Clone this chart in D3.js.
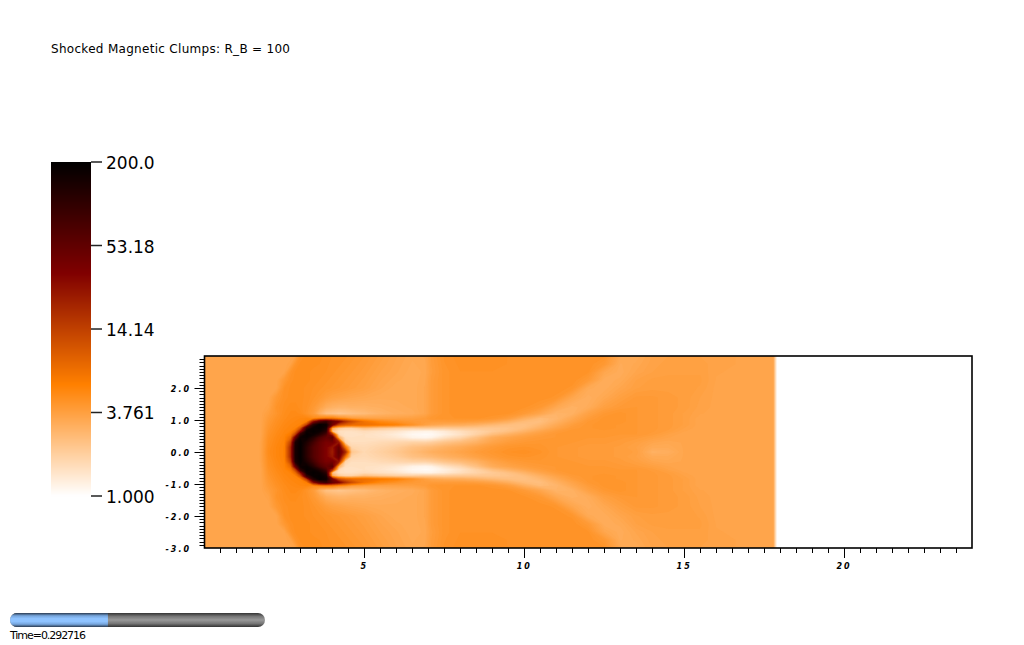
<!DOCTYPE html>
<html><head><meta charset="utf-8">
<script src="https://cdn.jsdelivr.net/npm/d3@7/dist/d3.min.js"></script>
<style>html,body{margin:0;padding:0;background:#fff;overflow:hidden}svg{display:block}text{fill:#000}</style>
</head><body><svg id="c" width="1024" height="645"></svg>
<script>
const titleText = "Shocked Magnetic Clumps: R_B = 100";
const timeText = "Time=0.292716";
const timeFraction = 0.384;
const legendTicks = [200, 53.18, 14.14, 3.761, 1];
const legendLabels = ["200.0", "53.18", "14.14", "3.761", "1.000"];
const colorStops = [1, 5.85, 34.2, 200];
const colorValues = ["#ffffff", "#ff8000", "#800000", "#000000"];
const xLabelTicks = [5, 10, 15, 20];
const yLabelTicks = [-3, -2, -1, 0, 1, 2];

// Sample positions of the density field (upper half; the field is mirrored about y = 0)
const xNodes = [0,1.5,1.75,2,2.25,2.5,2.7,2.85,3,3.2,3.4,3.6,3.8,4,4.2,4.4,4.6,5,5.5,6,6.5,6.9,7.1,7.5,8,8.5,9,9.5,10,10.5,11,11.5,12,12.5,13,13.5,14,14.5,15,15.5,16,17,17.78,17.9,18,24];
const yNodes = [0,.15,.3,.45,.55,.65,.75,.85,.95,1.05,1.2,1.4,1.7,2,2.25,2.5,2.75,3];
const density = [
[3.5,3.5,3.6,5,5.4,5.8,20,150,190,110,65,48,35,22,55,20,2.2,1.75,1.95,2.2,2.6,2.9,3.1,3.3,3.6,4,4.3,4.6,4.7,4.5,4.2,4.1,4,4,3.9,3.8,3,3.1,3.5,3.5,3.55,3.55,3.5,1,1,1],
[3.5,3.5,3.6,4.9,5.4,5.8,20,150,190,110,65,48,35,25,50,7,1.8,1.7,1.85,2.05,2.4,2.6,2.7,3,3.3,3.7,4.1,4.4,4.5,4.4,4.2,4.1,4,4,3.9,3.7,3.3,3.3,3.5,3.5,3.55,3.55,3.5,1,1,1],
[3.5,3.5,3.6,4.8,5.3,5.7,14,140,190,130,80,50,38,40,25,1.9,1.6,1.6,1.7,1.8,1.9,1.9,2,2.3,2.6,3,3.6,4,4.2,4.3,4.2,4.2,4.1,4.1,4,3.8,3.5,3.4,3.5,3.5,3.55,3.55,3.5,1,1,1],
[3.5,3.5,3.55,4.7,5.2,5.6,8,50,170,180,120,70,50,60,3,1.6,1.55,1.55,1.5,1.4,1.2,1.15,1.2,1.5,1.8,2.4,3.2,3.6,3.9,4.1,4.2,4.3,4.2,4.2,4.1,4,3.8,3.6,3.5,3.5,3.55,3.55,3.5,1,1,1],
[3.5,3.5,3.5,4.6,5.1,5.5,6.5,15,110,190,170,120,70,18,1.7,1.5,1.5,1.55,1.45,1.3,1.12,1.08,1.1,1.25,1.5,1.9,2.5,3,3.5,3.9,4.2,4.3,4.3,4.3,4.2,4.2,4,3.7,3.5,3.5,3.55,3.55,3.5,1,1,1],
[3.5,3.5,3.5,4.5,5,5.4,5.6,8,25,170,190,170,110,2.4,1.6,1.55,1.55,1.65,1.55,1.45,1.25,1.2,1.2,1.35,1.6,1.85,2.1,2.4,2.9,3.5,4,4.3,4.3,4.3,4.3,4.2,4.1,3.9,3.6,3.5,3.55,3.55,3.5,1,1,1],
[3.5,3.5,3.5,4.4,4.9,5.3,5.5,5.7,10,90,180,190,150,3.5,2.2,1.9,1.9,2.5,2.2,2,2,2.1,2.1,2.1,2.2,2.2,2.2,2.3,2.5,3,3.6,4.1,4.3,4.4,4.3,4.2,4.1,4,3.7,3.5,3.55,3.55,3.5,1,1,1],
[3.5,3.5,3.5,4.3,4.8,5.2,5.4,5.5,5.7,14,110,190,170,40,12,9,8,7.5,6.5,5.8,4.6,3.8,3.5,3.3,3.2,3,2.7,2.5,2.4,2.7,3.3,3.9,4.3,4.4,4.3,4.2,4.1,4,3.8,3.5,3.55,3.55,3.5,1,1,1],
[3.5,3.5,3.5,4.2,4.7,5.1,5.3,5.4,5.5,6,25,60,90,50,35,18,12,7,5.2,4.6,4.2,4,4,4,4,3.9,3.6,3.1,2.6,2.5,3,3.6,4.2,4.4,4.4,4.2,4.1,4,3.8,3.5,3.55,3.55,3.5,1,1,1],
[3.5,3.5,3.5,4.1,4.6,5,5.2,5.3,5.4,5.5,5,5.5,6,6,5,4.6,4,3.8,3.7,3.7,3.8,4,4.3,4.4,4.5,4.5,4.3,3.9,3.1,2.6,2.8,3.4,4,4.4,4.4,4.2,4.1,4,3.8,3.5,3.55,3.55,3.5,1,1,1],
[3.5,3.5,3.5,3.9,4.4,4.9,5.1,5.1,5,4.5,4,3,2.4,2.3,2.2,2.3,2.4,2.6,2.9,3.1,3.2,3.5,4,4.4,4.6,4.6,4.6,4.5,4.1,3.5,2.9,3,3.7,4.2,4.4,4.2,4.1,4,3.8,3.6,3.55,3.55,3.5,1,1,1],
[3.5,3.5,3.5,3.65,4.5,4.8,5,5,4.8,4.6,4.2,3.7,3.2,3,2.9,2.9,3,3,3.1,3.2,3.3,3.5,4,4.4,4.6,4.6,4.6,4.6,4.5,4.2,3.4,3,3.2,3.8,4.1,4.2,4.1,4,3.9,3.65,3.55,3.55,3.5,1,1,1],
[3.5,3.5,3.5,3.5,4.2,4.7,4.8,4.8,4.8,4.7,4.5,4.3,4,3.8,3.7,3.6,3.5,3.4,3.3,3.3,3.3,3.5,4,4.4,4.6,4.6,4.6,4.6,4.6,4.6,4.4,3.5,3.1,3.4,3.8,4.1,4.1,4,3.9,3.7,3.55,3.55,3.5,1,1,1],
[3.5,3.5,3.5,3.5,3.55,4.6,4.8,4.8,4.8,4.7,4.6,4.5,4.4,4.3,4.2,4.1,4,3.8,3.5,3.3,3.3,3.5,4,4.4,4.6,4.6,4.6,4.6,4.6,4.6,4.6,4.4,3.3,3.2,3.5,3.8,3.9,3.9,3.9,3.8,3.55,3.55,3.5,1,1,1],
[3.5,3.5,3.5,3.5,3.5,4.2,4.7,4.8,4.8,4.8,4.7,4.6,4.5,4.4,4.3,4.2,4.1,3.9,3.6,3.4,3.3,3.45,4,4.4,4.6,4.6,4.6,4.6,4.6,4.6,4.6,4.6,4.1,3.2,3.3,3.7,3.85,3.85,3.85,3.85,3.58,3.55,3.5,1,1,1],
[3.5,3.5,3.5,3.5,3.5,3.55,4.5,4.8,4.8,4.8,4.7,4.7,4.6,4.5,4.4,4.3,4.2,4,3.7,3.5,3.3,3.4,3.9,4.4,4.6,4.6,4.6,4.6,4.6,4.6,4.6,4.6,4.5,3.5,3.2,3.5,3.7,3.8,3.8,3.8,3.6,3.55,3.5,1,1,1],
[3.5,3.5,3.5,3.5,3.5,3.5,3.7,4.5,4.8,4.8,4.8,4.75,4.65,4.55,4.5,4.4,4.3,4.1,3.8,3.55,3.35,3.45,3.95,4.45,4.65,4.65,4.65,4.6,4.6,4.6,4.6,4.6,4.6,4.2,3.25,3.4,3.65,3.75,3.75,3.75,3.65,3.55,3.5,1,1,1],
[3.5,3.5,3.5,3.5,3.5,3.5,3.5,3.7,4.6,4.8,4.8,4.8,4.7,4.6,4.6,4.5,4.4,4.2,3.9,3.6,3.4,3.5,4,4.5,4.7,4.7,4.7,4.6,4.6,4.6,4.6,4.6,4.6,4.5,3.4,3.3,3.6,3.7,3.7,3.7,3.65,3.55,3.5,1,1,1]
];
density.forEach((r,i)=>{ if(r.length!==xNodes.length) throw new Error("row "+i+" has "+r.length); });
if(density.length!==yNodes.length) throw new Error("rows");

const svg = d3.select("#c");
const x = d3.scaleLinear([0,24],[204.5,972]);
const y = d3.scaleLinear([-3,3],[548,356]);
const color = d3.scaleLog().domain(colorStops).range(colorValues).clamp(true);

// Field: top row first, mirrored about y = 0, on index grid
const nx = xNodes.length;
const rows = density.slice().reverse().concat(density.slice(1));
const rowY = yNodes.slice().reverse().concat(yNodes.slice(1).map(v=>-v));
const ny = rows.length;
const logField = rows.flat().map(Math.log);
const idxX = d3.scaleLinear().domain(d3.range(nx)).range(xNodes).clamp(true);
const idxY = d3.scaleLinear().domain(d3.range(ny)).range(rowY).clamp(true);
const nLevels = 170;
const thresholds = d3.range(1,nLevels).map(i=> i/nLevels*Math.log(200));
const contours = d3.contours().size([nx,ny]).smooth(true).thresholds(thresholds)(logField);
const proj = d3.geoTransform({point(a,b){ this.stream.point(x(idxX(a-.5)), y(idxY(b-.5))); }});
const path = d3.geoPath(proj);
svg.append("g").selectAll("path").data(contours).join("path")
  .attr("d",path)
  .attr("fill",d=>color(Math.exp(d.value)));

// Plot frame and axes
const axes = svg.append("g").attr("stroke","#000").attr("fill","none");
axes.append("rect").attr("x",x(0)).attr("y",y(3)).attr("width",x(24)-x(0)).attr("height",y(-3)-y(3)).attr("stroke-width",1.6);
const xMinor = d3.range(1,48).map(v=>v/2);
axes.selectAll(".xt").data(xMinor).join("line").attr("class","xt")
  .attr("x1",d=>Math.round(x(d))+.5).attr("x2",d=>Math.round(x(d))+.5)
  .attr("y1",y(-3)).attr("y2",d=>y(-3)+(d%5===0?10:5)).attr("stroke-width",1);
const yMinor = d3.range(-29,30).map(v=>v/10);
axes.selectAll(".yt").data(yMinor).join("line").attr("class","yt")
  .attr("y1",d=>Math.round(y(d))+.5).attr("y2",d=>Math.round(y(d))+.5)
  .attr("x1",x(0)).attr("x2",d=>x(0)-(Math.abs(d%1)<1e-6?10:5)).attr("stroke-width",1);

const tickFont = "italic bold 8px 'DejaVu Sans', sans-serif";
svg.selectAll(".xl").data(xLabelTicks).join("text").attr("class","xl")
  .attr("x",d=>x(d)).attr("y",569).attr("text-anchor","middle").style("font",tickFont).style("letter-spacing","2px").text(d=>d);
svg.selectAll(".yl").data(yLabelTicks).join("text").attr("class","yl")
  .attr("x",191).attr("y",d=>y(d)+4).attr("text-anchor","end").style("font",tickFont).style("letter-spacing","2px").text(d=>d3.format(".1f")(d).replace("−","-"));

// Legend
const lg = d3.scaleLog().domain([1,200]).range([496,162]);
svg.append("g").selectAll("rect").data(d3.range(162,496)).join("rect")
  .attr("x",51).attr("width",40).attr("y",d=>d).attr("height",1.5)
  .attr("fill",d=>color(lg.invert(d+.5)));
svg.append("g").selectAll("line").data(legendTicks).join("line")
  .attr("x1",91).attr("x2",102).attr("y1",d=>lg(d)).attr("y2",d=>lg(d)).attr("stroke","#222").attr("stroke-width",1.5);
svg.append("g").selectAll("text").data(legendTicks).join("text")
  .attr("x",106).attr("y",d=>lg(d)+7).style("font","17px 'DejaVu Sans', sans-serif").text((d,i)=>legendLabels[i]);

// Title
svg.append("text").attr("x",51).attr("y",53).style("font","12px 'DejaVu Sans', sans-serif").attr("textLength",239).text(titleText);

// Time slider
const defs = svg.append("defs");
function grad(id,stops){ const g=defs.append("linearGradient").attr("id",id).attr("x1",0).attr("x2",0).attr("y1",0).attr("y2",1);
  stops.forEach(s=>g.append("stop").attr("offset",s[0]).attr("stop-color",s[1])); }
grad("gBlue",[[0,"#2a3a50"],[.2,"#76a5dc"],[.4,"#8fc3ff"],[.6,"#8fc3ff"],[.8,"#76a5dc"],[1,"#2a3a50"]]);
grad("gGrey",[[0,"#333"],[.25,"#777"],[.5,"#999"],[.75,"#777"],[1,"#333"]]);
const sl = d3.scaleLinear([0,1],[10,265]);
const clip = defs.append("clipPath").attr("id","sc");
clip.append("rect").attr("x",sl(0)).attr("y",613).attr("width",sl(1)-sl(0)).attr("height",14).attr("rx",7).attr("ry",7);
const sg = svg.append("g").attr("clip-path","url(#sc)");
sg.append("rect").attr("x",sl(0)).attr("y",613).attr("width",sl(1)-sl(0)).attr("height",14).attr("fill","url(#gGrey)");
sg.append("rect").attr("x",sl(0)).attr("y",613).attr("width",sl(timeFraction)-sl(0)).attr("height",14).attr("fill","url(#gBlue)");
svg.append("text").attr("x",10).attr("y",639).style("font","11px 'DejaVu Sans', sans-serif").attr("textLength",76).text(timeText);
</script></body></html>
